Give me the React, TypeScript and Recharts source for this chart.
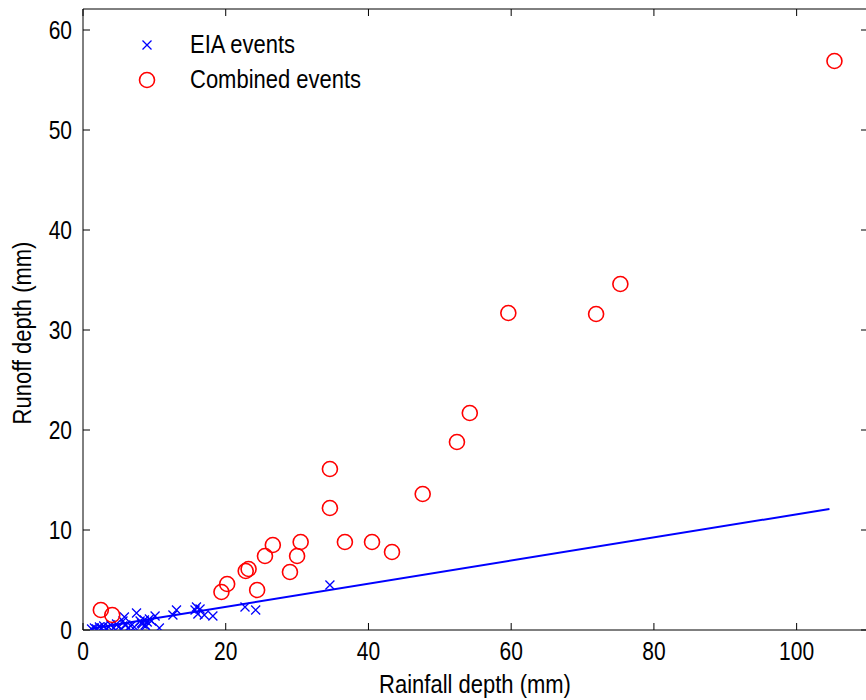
import React from 'react';
import { ScatterChart, Scatter, XAxis, YAxis, Legend } from 'recharts';

// EIA events (blue crosses)
const eiaRain = [1.2, 1.6, 1.9, 2.3, 2.6, 2.9, 3.2, 3.6, 3.9, 4.3, 4.7, 5.0, 5.3, 5.6, 5.8, 6.0, 6.3, 6.7, 7.2, 7.5, 8.0, 8.2, 8.3, 8.6, 8.7, 8.8, 9.0, 9.3, 9.6, 10.1, 10.7, 12.6, 13.1, 15.7, 15.9, 16.1, 16.4, 17.0, 18.2, 22.7, 24.2, 34.6];
const eiaRunoff = [0.1, 0.2, 0.1, 0.3, 0.2, 0.4, 0.1, 0.3, 0.5, 0.2, 0.6, 0.3, 0.1, 0.9, 1.3, 0.5, 0.2, 0.4, 0.3, 1.7, 0.9, 0.7, 0.6, 1.0, 0.5, 0.4, 0.8, 1.1, 0.9, 1.4, 0.2, 1.5, 2.0, 2.0, 2.3, 1.6, 2.1, 1.5, 1.4, 2.3, 2.0, 4.5];

// Combined events (red circles)
const combRain = [2.5, 4.1, 19.4, 20.2, 22.8, 23.2, 24.4, 25.5, 26.6, 29.0, 30.0, 30.5, 34.6, 34.6, 36.7, 40.5, 43.3, 47.6, 52.4, 54.2, 59.6, 71.9, 75.3, 105.3];
const combRunoff = [2.0, 1.5, 3.8, 4.6, 5.9, 6.1, 4.0, 7.4, 8.5, 5.8, 7.4, 8.8, 12.2, 16.1, 8.8, 8.8, 7.8, 13.6, 18.8, 21.7, 31.7, 31.6, 34.6, 56.9];

// fitted line end points
const fitRain = [1.0, 104.6];
const fitRunoff = [0.12, 12.1];

const xTicks = [0, 20, 40, 60, 80, 100];
const yTicks = [0, 10, 20, 30, 40, 50, 60];
const legendOrder = ['EIA events', 'Combined events'];

const eia = eiaRain.map((x, i) => ({ x, y: eiaRunoff[i] }));
const combined = combRain.map((x, i) => ({ x, y: combRunoff[i] }));
const fit = fitRain.map((x, i) => ({ x, y: fitRunoff[i] }));

const FONT = '"Liberation Sans", Arial, Helvetica, sans-serif';
const STRETCH = 1.2; // glyphs in the picture look a bit tall

function Txt({ x, y, size, anchor = 'start', rotate = 0, children }: any) {
  return (
    <text
      transform={`translate(${x},${y}) rotate(${rotate}) scale(1,${STRETCH})`}
      x={0}
      y={0}
      textAnchor={anchor}
      fontSize={size}
      fontFamily={FONT}
      fill="#000"
    >
      {children}
    </text>
  );
}

const Cross = (p: any) => {
  const { cx, cy } = p;
  if (cx == null || cy == null) return <g />;
  const s = 4.5;
  return (
    <path
      d={`M${cx - s},${cy - s}L${cx + s},${cy + s}M${cx - s},${cy + s}L${cx + s},${cy - s}`}
      stroke="#0000ff"
      strokeWidth={1.3}
      fill="none"
    />
  );
};

const Ring = (p: any) => {
  const { cx, cy } = p;
  if (cx == null || cy == null) return <g />;
  return <circle cx={cx} cy={cy} r={7.5} stroke="#ff0000" strokeWidth={1.6} fill="none" />;
};

const NoDot = () => <g />;

const BottomTick = (p: any) => (
  <g>
    <line x1={p.x} x2={p.x} y1={p.y} y2={p.y - 7} stroke="#000" />
    <Txt x={p.x} y={p.y + 30} size={21} anchor="middle">{p.payload.value}</Txt>
  </g>
);
const TopTick = (p: any) => <line x1={p.x} x2={p.x} y1={p.y} y2={p.y + 7} stroke="#000" />;
const LeftTick = (p: any) => (
  <g>
    <line x1={p.x} x2={p.x + 7} y1={p.y} y2={p.y} stroke="#000" />
    <Txt x={p.x - 11} y={p.y + 9} size={21} anchor="end">{p.payload.value}</Txt>
  </g>
);
const RightTick = (p: any) => <line x1={p.x} x2={p.x - 7} y1={p.y} y2={p.y} stroke="#000" />;

const XTitle = () => <Txt x={475} y={693} size={22} anchor="middle">Rainfall depth (mm)</Txt>;
const YTitle = () => <Txt x={31} y={333} size={22} anchor="middle" rotate={-90}>Runoff depth (mm)</Txt>;

const LegendBox = ({ payload }: any) => {
  const items = (payload || [])
    .filter((e: any) => legendOrder.includes(e.value))
    .sort((a: any, b: any) => legendOrder.indexOf(a.value) - legendOrder.indexOf(b.value));
  return (
    <svg width={280} height={80} style={{ display: 'block' }}>
      {items.map((e: any, i: number) => {
        const cy = 20 + i * 35;
        return (
          <g key={e.value}>
            {e.value === 'EIA events' ? <Cross cx={17} cy={cy} /> : <Ring cx={17} cy={cy} />}
            <Txt x={60} y={cy + 8} size={22}>{e.value}</Txt>
          </g>
        );
      })}
    </svg>
  );
};

export default function App() {
  return (
    <div style={{ position: 'absolute', left: 0, top: 0, width: 866, height: 700, overflow: 'hidden', background: '#fff' }}>
      <ScatterChart width={880} height={700} margin={{ top: 8, right: 10, bottom: 0, left: 28 }}>
        <XAxis
          xAxisId="b"
          type="number"
          dataKey="x"
          domain={[0, 110]}
          ticks={xTicks}
          allowDataOverflow
          height={70}
          tickSize={0}
          tickMargin={0}
          tickLine={false}
          tick={<BottomTick />}
          axisLine={{ stroke: '#000' }}
          label={<XTitle />}
        />
        <XAxis
          xAxisId="t"
          orientation="top"
          type="number"
          dataKey="x"
          domain={[0, 110]}
          ticks={xTicks}
          allowDataOverflow
          height={1}
          tickSize={0}
          tickMargin={0}
          tickLine={false}
          tick={<TopTick />}
          axisLine={{ stroke: '#000' }}
        />
        <YAxis
          yAxisId="l"
          type="number"
          dataKey="y"
          domain={[0, 62.1]}
          ticks={yTicks}
          allowDataOverflow
          width={55}
          tickSize={0}
          tickMargin={0}
          tickLine={false}
          tick={<LeftTick />}
          axisLine={{ stroke: '#000' }}
          label={<YTitle />}
        />
        <YAxis
          yAxisId="r"
          orientation="right"
          type="number"
          dataKey="y"
          domain={[0, 62.1]}
          ticks={yTicks}
          allowDataOverflow
          width={2}
          tickSize={0}
          tickMargin={0}
          tickLine={false}
          tick={<RightTick />}
          axisLine={{ stroke: '#000' }}
        />
        <Legend
          layout="vertical"
          align="center"
          verticalAlign="middle"
          wrapperStyle={{ left: 130, top: 25, width: 280 }}
          content={<LegendBox />}
        />
        <Scatter
          name="fit"
          data={fit}
          xAxisId="b"
          yAxisId="l"
          line={{ stroke: '#0000ff', strokeWidth: 2 }}
          lineType="joint"
          shape={<NoDot />}
          legendType="none"
          isAnimationActive={false}
        />
        <Scatter
          name="EIA events"
          data={eia}
          xAxisId="b"
          yAxisId="l"
          shape={<Cross />}
          legendType="cross"
          fill="#0000ff"
          isAnimationActive={false}
        />
        <Scatter
          name="Combined events"
          data={combined}
          xAxisId="b"
          yAxisId="l"
          shape={<Ring />}
          legendType="circle"
          fill="#ff0000"
          isAnimationActive={false}
        />
      </ScatterChart>
    </div>
  );
}
